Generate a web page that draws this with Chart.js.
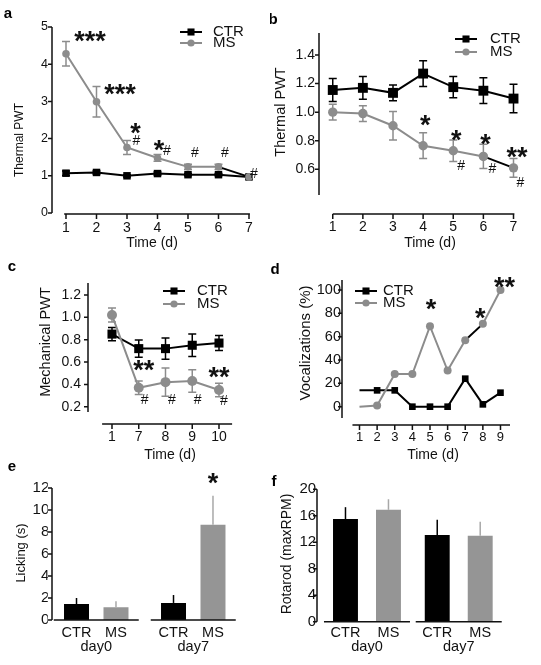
<!DOCTYPE html>
<html>
<head>
<meta charset="utf-8">
<script src="https://cdn.jsdelivr.net/npm/chart.js@4.4.1/dist/chart.umd.min.js"></script>
<style>
  body { margin: 0; background: #fff; width: 541px; height: 665px; position: relative; overflow: hidden; }
  canvas { position: absolute; }
</style>
</head>
<body>
<canvas id="chartA"></canvas>
<canvas id="chartB"></canvas>
<canvas id="chartC"></canvas>
<canvas id="chartD"></canvas>
<canvas id="chartE"></canvas>
<canvas id="chartF"></canvas>
<script>
const FONT = '"Liberation Sans", Arial, Helvetica, sans-serif';
const INK = '#111';
const GRAY = '#8c8c8c';
const BAR_GRAY = '#959595';

// a - thermal PWT, days 1-7
const daysA = [1, 2, 3, 4, 5, 6, 7];
const ctrA = [1.07, 1.09, 1.00, 1.06, 1.03, 1.03, 0.97];
const ctrErrA = [0.06, 0.04, 0.03, 0.04, 0.03, 0.03, 0.03];
const msA = [4.28, 2.99, 1.76, 1.48, 1.24, 1.24, 0.97];
const msErrA = [0.33, 0.41, 0.19, 0.09, 0.07, 0.07, 0.05];
const yTicksA = [0, 1, 2, 3, 4, 5];

// b - thermal PWT, days 1-7
const daysB = [1, 2, 3, 4, 5, 6, 7];
const ctrB = [1.155, 1.17, 1.135, 1.27, 1.175, 1.15, 1.095];
const ctrErrB = [0.08, 0.08, 0.055, 0.09, 0.075, 0.09, 0.10];
const msB = [1.0, 0.99, 0.905, 0.765, 0.73, 0.69, 0.61];
const msErrB = [0.055, 0.055, 0.10, 0.09, 0.075, 0.085, 0.065];
const yTicksB = [0.6, 0.8, 1.0, 1.2, 1.4];

// c - mechanical PWT
const daysC = ['1', '7', '8', '9', '10'];
const ctrC = [0.85, 0.72, 0.72, 0.75, 0.77];
const ctrErrC = [0.06, 0.078, 0.094, 0.10, 0.067];
const msC = [1.02, 0.37, 0.42, 0.43, 0.35];
const msErrC = [0.063, 0.06, 0.127, 0.10, 0.06];
const yTicksC = [0.2, 0.4, 0.6, 0.8, 1.0, 1.2];

// d - vocalizations
const daysD = [1, 2, 3, 4, 5, 6, 7, 8, 9];
const ctrD = [14, 14, 14, 0, 0, 0, 24, 2, 12];
const msD = [0, 1, 28, 28, 69, 31, 57, 71, 100];
const yTicksD = [0, 20, 40, 60, 80, 100];

// e - licking
const groupsE = ['day0', 'day7'];
const ctrE = [1.45, 1.55];
const ctrErrE = [0.55, 0.72];
const msE = [1.15, 8.67];
const msErrE = [0.55, 2.63];
const yTicksE = [0, 2, 4, 6, 8, 10, 12];

// f - rotarod
const groupsF = ['day0', 'day7'];
const ctrF = [15.5, 13.1];
const ctrErrF = [1.8, 2.3];
const msF = [16.9, 13.0];
const msErrF = [1.6, 2.1];
const yTicksF = [0, 4, 8, 12, 16, 20];

// per-panel placement and annotations (page coordinates)
const panels = {
  chartA: {
    box: { x: 0, y: 0, w: 270, h: 250 }, area: { l: 52, t: 27, r: 249, b: 213 },
    letter: { x: 8, y: 14 }, letterText: 'a',
    yTitle: { text: 'Thermal PWT', x: 20, y: 140, size: 12 },
    xTitle: { text: 'Time (d)', x: 152, y: 243, size: 14 },
    xAxis: { gap: 1, from: 0.94, to: 7.03 },
    legend: [{ set: 0, x: 191, y: 32, tx: 213 }, { set: 1, x: 191, y: 43, tx: 213 }],
    notes: [
      { set: 1, i: 0, t: '***', dx: 24, dy: -10 }, { set: 1, i: 1, t: '***', dx: 23.5, dy: -12 },
      { set: 1, i: 2, t: '*', dx: 8.5, dy: -19 }, { set: 1, i: 2, t: '#', dx: 9.5, dy: -8 },
      { set: 1, i: 3, t: '*', dx: 1.5, dy: -12 }, { set: 1, i: 3, t: '#', dx: 9.5, dy: -8 },
      { set: 1, i: 4, t: '#', dx: 7, dy: -15 }, { set: 1, i: 5, t: '#', dx: 6.5, dy: -15 },
      { set: 1, i: 6, t: '#', dx: 5, dy: -4 }
    ]
  },
  chartB: {
    box: { x: 270, y: 0, w: 271, h: 250 }, area: { l: 319, t: 33, r: 517, b: 195 },
    letter: { x: 273, y: 18 }, letterText: 'b',
    yTitle: { text: 'Thermal PWT', x: 281, y: 112, size: 14.5 },
    xTitle: { text: 'Time (d)', x: 430, y: 243, size: 14 },
    xAxis: { gap: 19, from: 1, to: 7.03 },
    legend: [{ set: 0, x: 466, y: 39, tx: 490 }, { set: 1, x: 466, y: 52, tx: 490 }],
    notes: [
      { set: 1, i: 3, t: '*', dx: 2, dy: -18 },
      { set: 1, i: 4, t: '*', dx: 3, dy: -15 }, { set: 1, i: 4, t: '#', dx: 8, dy: 14 },
      { set: 1, i: 5, t: '*', dx: 2, dy: -17 }, { set: 1, i: 5, t: '#', dx: 9, dy: 12 },
      { set: 1, i: 6, t: '**', dx: 3.5, dy: -15 }, { set: 1, i: 6, t: '#', dx: 7, dy: 14 }
    ]
  },
  chartC: {
    box: { x: 0, y: 255, w: 270, h: 210 }, area: { l: 88, t: 283, r: 232, b: 412 },
    letter: { x: 12, y: 267 }, letterText: 'c',
    yTitle: { text: 'Mechanical PWT', x: 46, y: 342, size: 14.5 },
    xTitle: { text: 'Time (d)', x: 170, y: 455, size: 14 },
    xAxis: { gap: 12, from: -0.37, to: 4.49 },
    legend: [{ set: 0, x: 174, y: 291, tx: 197 }, { set: 1, x: 174, y: 304, tx: 197 }],
    notes: [
      { set: 1, i: 1, t: '**', dx: 5, dy: -15 }, { set: 1, i: 1, t: '#', dx: 6, dy: 11 },
      { set: 1, i: 2, t: '#', dx: 6.5, dy: 17 }, { set: 1, i: 3, t: '#', dx: 5.5, dy: 18 },
      { set: 1, i: 4, t: '**', dx: 0, dy: -17 }, { set: 1, i: 4, t: '#', dx: 5, dy: 10 }
    ]
  },
  chartD: {
    box: { x: 270, y: 255, w: 271, h: 210 }, area: { l: 342, t: 280, r: 510, b: 418 },
    letter: { x: 275, y: 268 }, letterText: 'd',
    yTitle: { text: 'Vocalizations (%)', x: 306, y: 343, size: 15 },
    xTitle: { text: 'Time (d)', x: 433, y: 455, size: 14 },
    xAxis: { gap: 7, from: 0.6, to: 9.54 },
    legend: [{ set: 0, x: 366, y: 291, tx: 383 }, { set: 1, x: 366, y: 303, tx: 383 }],
    notes: [
      { set: 1, i: 4, t: '*', dx: 1, dy: -14 },
      { set: 1, i: 7, t: '*', dx: -2.5, dy: -10 },
      { set: 1, i: 8, t: '**', dx: 4, dy: -8 }
    ]
  },
  chartE: {
    box: { x: 0, y: 460, w: 270, h: 205 }, area: { l: 47.75, t: 488, r: 241.75, b: 620 },
    letter: { x: 12, y: 467 }, letterText: 'e', yAxisX: 52,
    yTitle: { text: 'Licking (s)', x: 21, y: 553, size: 13 },
    bases: 42.5, barLabelY: 632,
    notes: [{ set: 1, i: 1, t: '*', dx: 0, dy: -39 }]
  },
  chartF: {
    box: { x: 270, y: 460, w: 271, h: 205 }, area: { l: 321.1, t: 489.3, r: 504.6, b: 621.7 },
    letter: { x: 274, y: 480 }, letterText: 'f', yAxisX: 317,
    yTitle: { text: 'Rotarod (maxRPM)', x: 287, y: 554, size: 14 },
    bases: 43, barLabelY: 632,
    notes: []
  }
};

function inkText(ctx, text, cx, cy, size, weight) {
  ctx.font = (weight || 'normal') + ' ' + size + 'px ' + FONT;
  const m = ctx.measureText(text);
  ctx.textAlign = 'center';
  ctx.textBaseline = 'alphabetic';
  ctx.fillText(text, cx, cy + (m.actualBoundingBoxAscent - m.actualBoundingBoxDescent) / 2);
}

function drawMarker(ctx, ds, x, y, r) {
  ctx.fillStyle = ds.pointBackgroundColor;
  ctx.beginPath();
  if (ds.pointStyle === 'rect') {
    const s = r * Math.SQRT1_2;
    ctx.rect(x - s, y - s, 2 * s, 2 * s);
  } else {
    ctx.arc(x, y, r, 0, Math.PI * 2);
  }
  ctx.fill();
}

const figPlugin = {
  id: 'fig',
  beforeDatasetsDraw(chart) {
    if (chart.config.type !== 'line') return;
    const ctx = chart.ctx, ys = chart.scales.y;
    ctx.save();
    ctx.lineWidth = 1.5;
    chart.data.datasets.forEach((ds, d) => {
      if (!ds.err) return;
      const meta = chart.getDatasetMeta(d);
      ctx.strokeStyle = ds.errColor;
      ds.err.forEach((e, i) => {
        const v = ds.data[i].y;
        const x = meta.data[i].x;
        const y0 = ys.getPixelForValue(v - e), y1 = ys.getPixelForValue(v + e);
        ctx.beginPath();
        ctx.moveTo(x, y0); ctx.lineTo(x, y1);
        ctx.moveTo(x - 4, y0); ctx.lineTo(x + 4, y0);
        ctx.moveTo(x - 4, y1); ctx.lineTo(x + 4, y1);
        ctx.stroke();
      });
    });
    ctx.restore();
  },
  afterDatasetsDraw(chart) {
    if (chart.config.type !== 'bar') return;
    const ctx = chart.ctx, ys = chart.scales.y;
    ctx.save();
    ctx.lineWidth = 1.5;
    chart.data.datasets.forEach((ds, d) => {
      const meta = chart.getDatasetMeta(d);
      ctx.strokeStyle = ds.errColor;
      ds.err.forEach((e, i) => {
        const x = meta.data[i].x;
        ctx.beginPath();
        ctx.moveTo(x, ys.getPixelForValue(ds.data[i]));
        ctx.lineTo(x, ys.getPixelForValue(ds.data[i] + e));
        ctx.stroke();
      });
    });
    ctx.restore();
  },
  afterDraw(chart) {
    const p = panels[chart.canvas.id];
    const ctx = chart.ctx;
    const { top, bottom, left } = chart.chartArea;
    const xs = chart.scales.x, ys = chart.scales.y;
    const ox = p.box.x, oy = p.box.y;
    ctx.save();
    ctx.strokeStyle = INK;
    ctx.fillStyle = INK;
    ctx.lineWidth = 1.5;

    // y axis with outward ticks
    const ax = p.yAxisX !== undefined ? p.yAxisX - ox : left;
    ctx.beginPath();
    ctx.moveTo(ax, top); ctx.lineTo(ax, bottom);
    ys.ticks.forEach(t => {
      const y = ys.getPixelForValue(t.value);
      ctx.moveTo(ax - 4, y); ctx.lineTo(ax, y);
    });
    ctx.stroke();

    // x axis: offset line for line panels, split baselines for bars
    ctx.beginPath();
    if (p.xAxis) {
      const y = bottom + p.xAxis.gap;
      ctx.moveTo(xs.getPixelForValue(p.xAxis.from), y);
      ctx.lineTo(xs.getPixelForValue(p.xAxis.to), y);
      xs.ticks.forEach(t => {
        const x = xs.getPixelForValue(t.value);
        ctx.moveTo(x, y); ctx.lineTo(x, y + 5);
      });
    } else {
      chart.data.labels.forEach((lab, i) => {
        const c = xs.getPixelForValue(i);
        ctx.moveTo(c - p.bases, bottom); ctx.lineTo(c + p.bases, bottom);
      });
    }
    ctx.stroke();

    // bar names under each bar
    if (p.barLabelY) {
      chart.data.datasets.forEach((ds, d) => {
        chart.getDatasetMeta(d).data.forEach(bar => {
          ctx.fillStyle = INK;
          inkText(ctx, ds.label, bar.x, p.barLabelY - oy, 14.5);
        });
      });
    }

    // panel letter
    ctx.fillStyle = '#000';
    inkText(ctx, p.letterText, p.letter.x - ox, p.letter.y - oy, 15, 'bold');

    // axis titles
    ctx.fillStyle = INK;
    ctx.textAlign = 'center';
    ctx.textBaseline = 'middle';
    ctx.save();
    ctx.translate(p.yTitle.x - ox, p.yTitle.y - oy);
    ctx.rotate(-Math.PI / 2);
    ctx.font = p.yTitle.size + 'px ' + FONT;
    ctx.fillText(p.yTitle.text, 0, 0);
    ctx.restore();
    if (p.xTitle) {
      ctx.font = p.xTitle.size + 'px ' + FONT;
      ctx.fillText(p.xTitle.text, p.xTitle.x - ox, p.xTitle.y - oy);
    }

    // in-plot legend
    (p.legend || []).forEach(l => {
      const ds = chart.data.datasets[l.set];
      const x = l.x - ox, y = l.y - oy;
      ctx.strokeStyle = ds.borderColor;
      ctx.lineWidth = 2;
      ctx.beginPath();
      ctx.moveTo(x - 11, y); ctx.lineTo(x + 11, y);
      ctx.stroke();
      drawMarker(ctx, ds, x, y, ds.pointStyle === 'rect' ? 5 : 3.6);
      ctx.fillStyle = INK;
      ctx.font = '15px ' + FONT;
      ctx.textAlign = 'left';
      ctx.textBaseline = 'middle';
      ctx.fillText(ds.label, l.tx - ox, y);
    });

    // significance marks
    ctx.fillStyle = '#111';
    p.notes.forEach(n => {
      const el = chart.getDatasetMeta(n.set).data[n.i];
      if (n.t === '#') inkText(ctx, n.t, el.x + n.dx, el.y + n.dy, 14);
      else inkText(ctx, n.t, el.x + n.dx, el.y + n.dy, 27, 'bold');
    });
    ctx.restore();
  }
};
Chart.register(figPlugin);
Chart.defaults.font.family = FONT;
Chart.defaults.color = INK;

function hiddenGrid() {
  return { display: false, drawTicks: false };
}

function makeChart(id, cfg, yTicks, yFmt, yTickSize, yPad, xTickSize, xPad) {
  const p = panels[id];
  const cv = document.getElementById(id);
  cv.width = p.box.w; cv.height = p.box.h;
  cv.style.left = p.box.x + 'px'; cv.style.top = p.box.y + 'px';
  // scale boxes must be big enough to hold their labels (labels are clipped to them)
  const yW = 30, xH = xPad + 24;
  cfg.options.responsive = false;
  cfg.options.animation = false;
  cfg.options.events = [];
  cfg.options.plugins = { legend: { display: false }, tooltip: { enabled: false } };
  cfg.options.layout = {
    padding: {
      left: p.area.l - p.box.x - yW,
      top: p.area.t - p.box.y,
      right: p.box.x + p.box.w - p.area.r,
      bottom: Math.max(0, p.box.y + p.box.h - p.area.b - xH)
    }
  };
  const y = cfg.options.scales.y;
  y.grid = hiddenGrid();
  y.border = { display: false };
  y.afterFit = s => { s.width = yW; };
  y.afterBuildTicks = s => { s.ticks = yTicks.map(v => ({ value: v })); };
  y.ticks = { padding: yPad, font: { size: yTickSize }, callback: yFmt };
  const x = cfg.options.scales.x;
  x.grid = hiddenGrid();
  x.border = { display: false };
  x.afterFit = s => { s.height = xH; };
  x.ticks = Object.assign({ padding: xPad, font: { size: xTickSize }, maxRotation: 0, autoSkip: false }, x.ticks || {});
  return new Chart(cv, cfg);
}

function lineSets(xs, ctr, ctrErr, ms, msErr, sq, dot, blackSeg, hideFirst) {
  const pts = (vals) => vals.map((v, i) => ({ x: xs[i], y: v }));
  const rad = (r, vals) => vals.map((v, i) => (hideFirst && i === 0 ? 0 : r));
  return [
    {
      label: 'CTR', data: pts(ctr), err: ctrErr, errColor: '#000',
      borderColor: '#000', borderWidth: 2, pointStyle: 'rect',
      pointRadius: rad(sq, ctr), pointBackgroundColor: '#000', pointBorderWidth: 0,
      clip: false, order: 1
    },
    {
      label: 'MS', data: pts(ms), err: msErr, errColor: GRAY,
      borderColor: GRAY, borderWidth: 2, pointStyle: 'circle',
      pointRadius: rad(dot, ms), pointBackgroundColor: GRAY, pointBorderWidth: 0,
      clip: false, order: 0,
      segment: { borderColor: c => (c.p0DataIndex === blackSeg ? '#000' : undefined) }
    }
  ];
}

const fix1 = v => v.toFixed(1);
const plain = v => String(v);

makeChart('chartA', {
  type: 'line',
  data: { datasets: lineSets(daysA, ctrA, ctrErrA, msA, msErrA, 5.3, 3.8, 5, false) },
  options: { scales: {
    x: { type: 'linear', min: 0.541, max: 7, afterBuildTicks: s => { s.ticks = daysA.map(v => ({ value: v })); } },
    y: { type: 'linear', min: 0, max: 5 }
  } }
}, yTicksA, plain, 12.5, 4, 14, 6.5);

makeChart('chartB', {
  type: 'line',
  data: { datasets: lineSets(daysB, ctrB, ctrErrB, msB, msErrB, 7, 4.7, 5, false) },
  options: { scales: {
    x: { type: 'linear', min: 0.5435, max: 7, afterBuildTicks: s => { s.ticks = daysB.map(v => ({ value: v })); } },
    y: { type: 'linear', min: 0.42, max: 1.554 }
  } }
}, yTicksB, fix1, 14, 4, 14, 23.6);

makeChart('chartC', {
  type: 'line',
  data: { datasets: lineSets(daysC.map((d, i) => i), ctrC, ctrErrC, msC, msErrC, 6.4, 5, -1, false) },
  options: { scales: {
    x: {
      type: 'linear', min: -0.897, max: 4.486,
      afterBuildTicks: s => { s.ticks = daysC.map((d, i) => ({ value: i })); },
      ticks: { callback: v => daysC[v] }
    },
    y: { type: 'linear', min: 0.153, max: 1.307 }
  } }
}, yTicksC, fix1, 14, 7, 14, 16.6);

makeChart('chartD', {
  type: 'line',
  data: { datasets: lineSets(daysD, ctrD, null, msD, null, 4.7, 4, 6, true) },
  options: { scales: {
    x: { type: 'linear', min: 0.007, max: 9.54, afterBuildTicks: s => { s.ticks = daysD.map(v => ({ value: v })); } },
    y: { type: 'linear', min: -9.7, max: 108.6 }
  } }
}, yTicksD, plain, 14.5, 1, 13, 11.2);

function barSets(ctr, ctrErr, ms, msErr, catPct, barPct) {
  return [
    { label: 'CTR', data: ctr, err: ctrErr, errColor: '#000', backgroundColor: '#000',
      categoryPercentage: catPct, barPercentage: barPct },
    { label: 'MS', data: ms, err: msErr, errColor: '#a8a8a8', backgroundColor: BAR_GRAY,
      categoryPercentage: catPct, barPercentage: barPct }
  ];
}

makeChart('chartE', {
  type: 'bar',
  data: { labels: groupsE, datasets: barSets(ctrE, ctrErrE, msE, msErrE, 0.814, 0.633) },
  options: { scales: { x: { type: 'category' }, y: { type: 'linear', min: 0, max: 12 } } }
}, yTicksE, plain, 15, -1.5, 14.5, 18);

makeChart('chartF', {
  type: 'bar',
  data: { labels: groupsF, datasets: barSets(ctrF, ctrErrF, msF, msErrF, 0.937, 0.58) },
  options: { scales: { x: { type: 'category' }, y: { type: 'linear', min: 0, max: 20 } } }
}, yTicksF, plain, 15, 5, 14.5, 16.3);
</script>
</body>
</html>
